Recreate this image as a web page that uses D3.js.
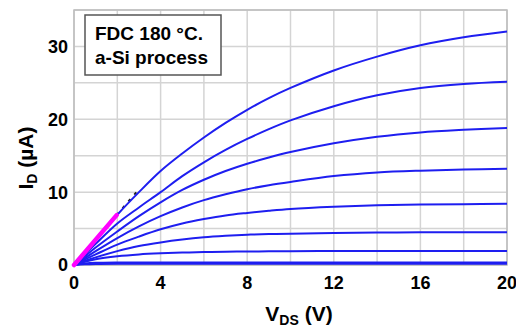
<html>
<head>
<meta charset="utf-8">
<title>FDC a-Si TFT output curves</title>
<script src="https://cdnjs.cloudflare.com/ajax/libs/d3/7.8.5/d3.min.js"></script>
<style>
  body { margin: 0; background: #fff; }
  svg text { font-family: "Liberation Sans", Arial, sans-serif; }
  .tick-label { font-weight: bold; font-size: 18px; fill: #000; }
</style>
</head>
<body>
<svg class="chart"></svg>
<script>
// drain voltage sample points (V)
var vds = [0, 0.5, 1, 2, 3, 4, 5, 6, 7, 8, 9, 10, 12, 14, 16, 18, 20];

// drain current (uA) per gate step
var id1 = [0, 1.75, 3.5, 6.9, 10.0, 12.9, 15.3, 17.5, 19.5, 21.3, 22.9, 24.3, 26.7, 28.6, 30.15, 31.25, 32.05];
var id2 = [0, 1.45, 2.9, 5.7, 7.9, 10.0, 12.2, 14.1, 15.8, 17.3, 18.65, 19.85, 21.8, 23.3, 24.3, 24.85, 25.15];
var id3 = [0, 1.2, 2.4, 4.6, 6.7, 8.6, 10.3, 11.7, 12.9, 13.9, 14.75, 15.5, 16.7, 17.6, 18.2, 18.55, 18.8];
var id4 = [0, 0.95, 1.9, 3.7, 5.3, 6.7, 7.9, 8.9, 9.7, 10.4, 10.95, 11.4, 12.2, 12.7, 12.95, 13.1, 13.2];
var id5 = [0, 0.75, 1.45, 2.8, 3.9, 4.9, 5.7, 6.3, 6.8, 7.15, 7.45, 7.7, 8.0, 8.2, 8.3, 8.35, 8.4];
var id6 = [0, 0.55, 1.05, 1.9, 2.6, 3.1, 3.5, 3.8, 4.0, 4.15, 4.25, 4.3, 4.4, 4.45, 4.48, 4.5, 4.5];
var id7 = [0, 0.45, 0.8, 1.2, 1.45, 1.6, 1.7, 1.78, 1.82, 1.85, 1.88, 1.9, 1.91, 1.92, 1.93, 1.93, 1.93];
var id8 = [0, 0.2, 0.3, 0.35, 0.35, 0.35, 0.35, 0.35, 0.35, 0.35, 0.35, 0.35, 0.35, 0.35, 0.35, 0.35, 0.35];
var id9 = [0, 0.1, 0.15, 0.18, 0.18, 0.18, 0.18, 0.18, 0.18, 0.18, 0.18, 0.18, 0.18, 0.18, 0.18, 0.18, 0.18];
var curves = [id1, id2, id3, id4, id5, id6, id7, id8, id9];

// linear-region fit (magenta) and its dashed extension
var fitV = [0, 1.97];
var fitI = [0, 6.85];
var extV = [1.97, 2.9];
var extI = [6.85, 10.05];

var xTicks = [0, 4, 8, 12, 16, 20];
var yTicks = [0, 10, 20, 30];
var xGrid = d3.range(0, 21, 2);
var yGrid = d3.range(0, 36, 5);

var margin = {top: 10, right: 9, bottom: 63, left: 74};
var W = 516, H = 328;
var width = W - margin.left - margin.right;
var height = H - margin.top - margin.bottom;

var x = d3.scaleLinear().domain([0, 20]).range([0, width]);
var y = d3.scaleLinear().domain([0, 35]).range([height, 0]);

var svg = d3.select(".chart").attr("width", W).attr("height", H);
var chart = svg.append("g").attr("transform", "translate(" + margin.left + "," + margin.top + ")");

// grid
chart.selectAll(".vgrid").data(xGrid).enter().append("line")
  .attr("x1", function(d){ return x(d); }).attr("x2", function(d){ return x(d); })
  .attr("y1", 0).attr("y2", height)
  .attr("stroke", "#d4d4d4").attr("stroke-width", 1.5);
chart.selectAll(".hgrid").data(yGrid).enter().append("line")
  .attr("x1", 0).attr("x2", width)
  .attr("y1", function(d){ return y(d); }).attr("y2", function(d){ return y(d); })
  .attr("stroke", "#d4d4d4").attr("stroke-width", 1.5);
chart.append("rect").attr("width", width).attr("height", height)
  .attr("fill", "none").attr("stroke", "#bdbdbd").attr("stroke-width", 1.5);

// tick labels
chart.selectAll(".xl").data(xTicks).enter().append("text")
  .attr("class", "tick-label")
  .attr("x", function(d){ return x(d); }).attr("y", height + 24)
  .attr("text-anchor", "middle").text(function(d){ return d; });
chart.selectAll(".yl").data(yTicks).enter().append("text")
  .attr("class", "tick-label")
  .attr("x", -6).attr("y", function(d){ return y(d); })
  .attr("dy", "0.36em")
  .attr("text-anchor", "end").text(function(d){ return d; });

// curves
var line = d3.line()
  .x(function(d){ return x(d[0]); })
  .y(function(d){ return y(d[1]); })
  .curve(d3.curveCatmullRom.alpha(0.5));

chart.append("path")
  .attr("d", line(d3.zip(extV, extI)))
  .attr("fill", "none").attr("stroke", "#222").attr("stroke-width", 2)
  .attr("stroke-dasharray", "3,6");

curves.forEach(function(c){
  chart.append("path")
    .attr("d", line(d3.zip(vds, c)))
    .attr("fill", "none").attr("stroke", "#1e1ef0").attr("stroke-width", 2);
});

chart.append("path")
  .attr("d", line(d3.zip(fitV, fitI)))
  .attr("fill", "none").attr("stroke", "#ff00ff").attr("stroke-width", 4.5)
  .attr("stroke-linecap", "round");

// legend box
var box = svg.append("g").attr("transform", "translate(85,15)");
box.append("rect").attr("width", 136).attr("height", 60)
  .attr("fill", "#fff").attr("stroke", "#555").attr("stroke-width", 1.5);
box.append("text").attr("x", 10).attr("y", 25)
  .style("font-weight", "bold").style("font-size", "19px").text("FDC 180 \u00B0C.");
box.append("text").attr("x", 10).attr("y", 49)
  .style("font-weight", "bold").style("font-size", "19px").text("a-Si process");

// axis titles
var xt = svg.append("text").attr("x", 299).attr("y", 321)
  .attr("text-anchor", "middle").style("font-size", "21px").style("font-weight", "bold");
xt.append("tspan").text("V");
xt.append("tspan").attr("dy", 4).style("font-size", "14px").text("DS");
xt.append("tspan").attr("dy", -4).text(" (V)");

var yt = svg.append("text")
  .attr("transform", "translate(33,158) rotate(-90)")
  .attr("text-anchor", "middle").style("font-size", "21px").style("font-weight", "bold");
yt.append("tspan").text("I");
yt.append("tspan").attr("dy", 4).style("font-size", "14px").text("D");
yt.append("tspan").attr("dy", -4).text(" (\u00B5A)");
</script>
</body>
</html>
